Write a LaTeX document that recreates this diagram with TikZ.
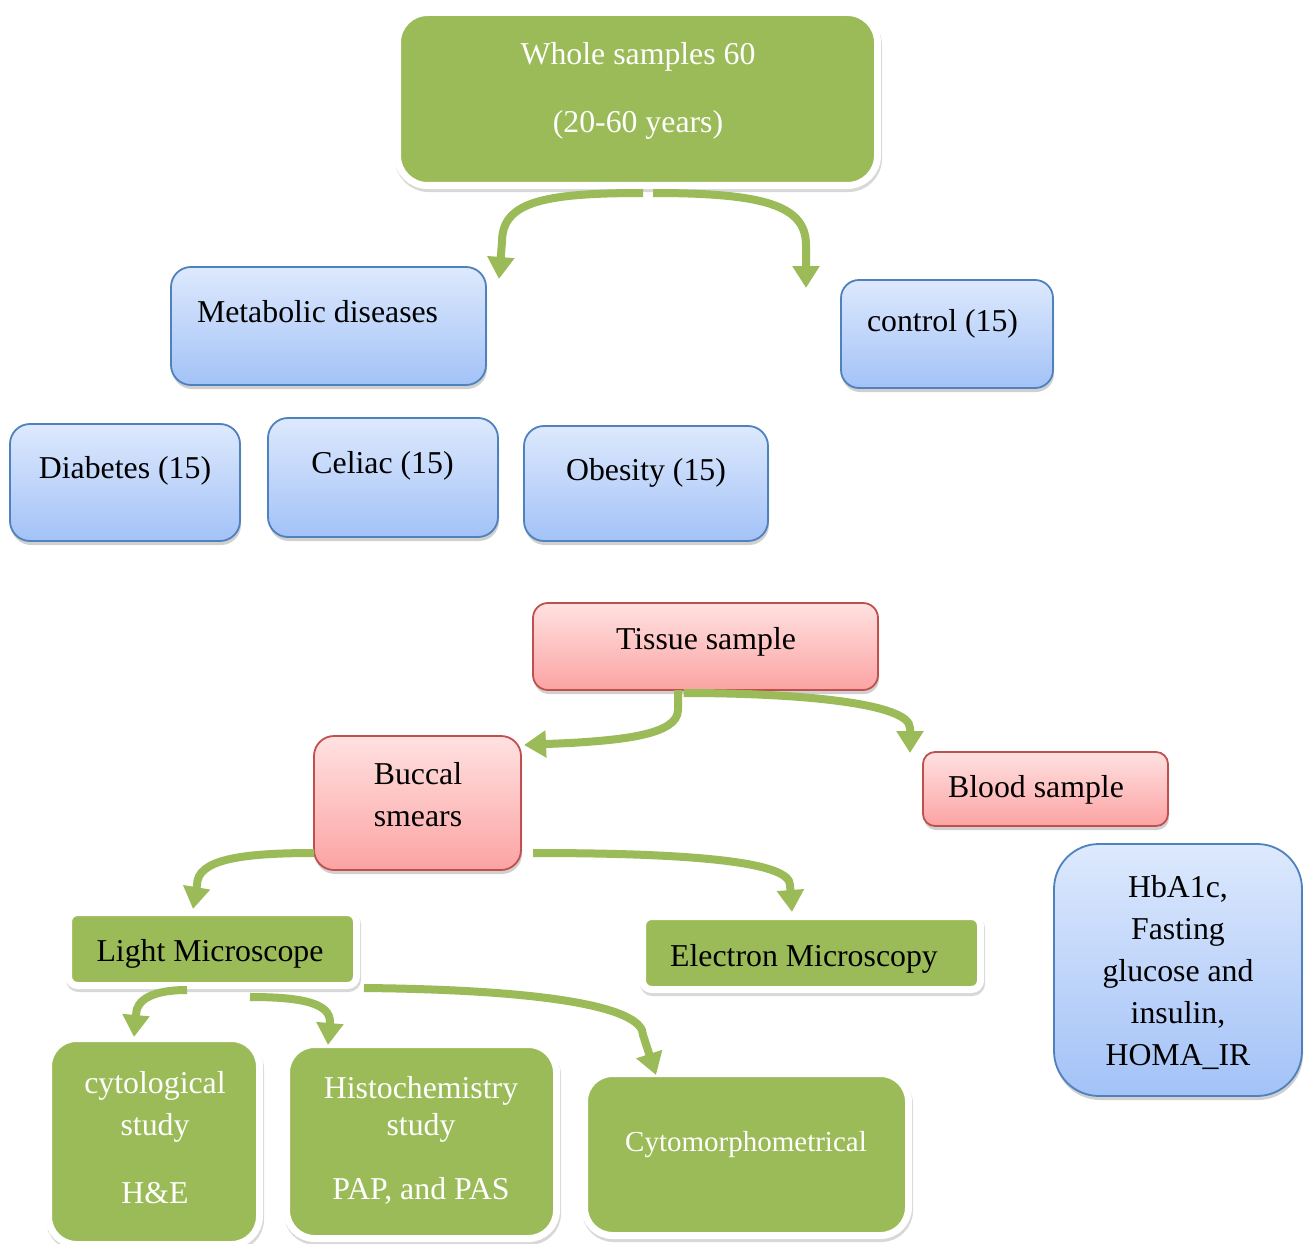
\documentclass[tikz,border=0pt]{standalone}
\usepackage{fontspec}
\setmainfont{Liberation Serif}
\usetikzlibrary{shadows,arrows.meta,calc}
\definecolor{grn}{HTML}{9BBB59}
\definecolor{bluetop}{HTML}{DDE9FD}
\definecolor{bluebot}{HTML}{A3C2F7}
\definecolor{blueedge}{HTML}{4F81BD}
\definecolor{redtop}{HTML}{FFE1E1}
\definecolor{redbot}{HTML}{FCA3A3}
\definecolor{rededge}{HTML}{C0504D}
\tikzset{
  box/.style={inner sep=0pt, outer sep=0pt, rounded corners=#1},
  box/.default=20pt,
  bluebox/.style={box=#1, draw=blueedge, line width=1.8pt, top color=bluetop, bottom color=bluebot,
    drop shadow={shadow xshift=1pt, shadow yshift=-4pt, opacity=0.3, fill=black!60}},
  bluebox/.default=20pt,
  redbox/.style={box=#1, draw=rededge, line width=1.8pt, top color=redtop, bottom color=redbot,
    drop shadow={shadow xshift=1pt, shadow yshift=-4pt, opacity=0.3, fill=black!60}},
  redbox/.default=20pt,
  greenbox/.style={box=#1, draw=white, line width=7pt, fill=grn,
    drop shadow={shadow xshift=1pt, shadow yshift=-3pt, opacity=0.25, fill=black!60, draw=black!60, line width=7pt}},
  greenbox/.default=25pt,
  txt/.style={inner sep=0pt, outer sep=0pt, align=center, font=\fontsize{31.8}{42}\selectfont},
  arr/.style={draw=grn, line width=8pt, -{Triangle[width=26pt,length=22pt]}},
}
\begin{document}
\begin{tikzpicture}[x=1pt,y=-1pt]
\useasboundingbox (0,0) rectangle (1307,1244);
\fill[white] (0,0) rectangle (1307,1244);

% boxes
\node[greenbox=30pt, minimum width=480pt, minimum height=173pt] (whole) at (637.5,99) {};
\node[bluebox=20pt, minimum width=315pt, minimum height=118pt] (metab) at (328.5,326) {};
\node[bluebox=18pt, minimum width=212pt, minimum height=108pt] (control) at (947,334) {};
\node[bluebox=20pt, minimum width=230pt, minimum height=117pt] (diab) at (125,482.5) {};
\node[bluebox=20pt, minimum width=230pt, minimum height=119pt] (celiac) at (383,477.5) {};
\node[bluebox=20pt, minimum width=244pt, minimum height=115pt] (obes) at (646,483.5) {};
\node[redbox=15pt, minimum width=345pt, minimum height=87pt] (tissue) at (705.5,646.5) {};
\node[redbox=20pt, minimum width=207pt, minimum height=134pt] (buccal) at (417.5,803) {};
\node[redbox=12pt, minimum width=245pt, minimum height=74pt] (blood) at (1045.5,789) {};
\node[bluebox=45pt, minimum width=248pt, minimum height=252pt] (hba) at (1178,970) {};
\node[greenbox=9pt, minimum width=288pt, minimum height=73pt] (light) at (212.5,949) {};
\node[greenbox=9pt, minimum width=338pt, minimum height=73pt] (electron) at (811.5,953) {};
\node[greenbox=28pt, minimum width=211pt, minimum height=206pt] (cyto) at (154,1141.5) {};
\node[greenbox=28pt, minimum width=270pt, minimum height=194pt] (histo) at (421.5,1141.5) {};
\node[greenbox=28pt, minimum width=324pt, minimum height=162pt] (morph) at (746.5,1154.5) {};

% texts
\node[txt, text=white, anchor=north] (whole-t) at (638,42.3) {Whole samples 60\\[26pt](20-60 years)};
\node[txt, anchor=base west] (metab-t) at (197,322) {Metabolic diseases};
\node[txt, anchor=base] (control-t) at (942.5,331) {control (15)};
\node[txt, anchor=base] (diab-t) at (125,478.3) {Diabetes (15)};
\node[txt, anchor=base] (celiac-t) at (382.5,473.3) {Celiac (15)};
\node[txt, anchor=base] (obes-t) at (646,480) {Obesity (15)};
\node[txt, anchor=base] (tissue-t) at (706,649) {Tissue sample};
\node[txt, anchor=north] (buccal-t) at (418,762.3) {Buccal\\smears};
\node[txt, anchor=base] (blood-t) at (1036,797) {Blood sample};
\node[txt, anchor=north] (hba-t) at (1178,875.3) {HbA1c,\\Fasting\\glucose and\\insulin,\\HOMA\_IR};
\node[txt, anchor=base] (light-t) at (210,961) {Light Microscope};
\node[txt, anchor=base] (electron-t) at (804,966) {Electron Microscopy};
\node[txt, text=white, anchor=north] (cyto-t) at (155,1071.3) {cytological\\study\\[26pt]H\&E};
\node[txt, text=white, anchor=north] (histo-t) at (421,1076.3) {Histochemistry\\[-5pt]study\\[22pt]PAP, and PAS};
\node[txt, text=white, anchor=base, font=\fontsize{29}{36}\selectfont] (morph-t) at (746,1151) {Cytomorphometrical};

% connectors
\draw[arr] ($(whole.south)+(5.5,7.5)$) .. controls +(-100,0) and +(0,-40) .. ($(metab.north east)+(16,-25)$) -- ($(metab.north east)+(13,12)$);
\draw[arr] ($(whole.south)+(15.5,7.5)$) .. controls +(110,0) and +(0,-40) .. ($(control.north west)+(-35,-35)$) -- ($(control.north west)+(-35,8)$);
\draw[arr] ($(tissue.south)+(-27.5,0)$) -- ++(0,20) .. controls +(0,25) and +(50,-3) .. ($(buccal.north east)+(49,7)$) -- ($(buccal.north east)+(3,9)$);
\draw[arr] ($(tissue.south)+(-22,3)$) .. controls +(115,0) and +(0,-25) .. ($(blood.north west)+(-13,-24)$) -- ($(blood.north west)+(-13,1)$);
\draw[arr] ($(buccal.west)+(0,50)$) .. controls +(-75,0) and +(0,-25) .. ($(light.north)+(-15.5,-27.5)$) -- ($(light.north)+(-19.5,-3.5)$);
\draw[arr] ($(buccal.east)+(12,50)$) .. controls +(170,0) and +(0,-22) .. ($(electron.north)+(-21.5,-31.5)$) -- ($(electron.north)+(-19.5,-4.5)$);
\draw[arr] ($(light.south)+(-25.5,4.5)$) .. controls +(-35,0) and +(0,-15) .. ($(cyto.north)+(-18,-23.5)$) -- ($(cyto.north)+(-20,-1.5)$);
\draw[arr] ($(light.south)+(37.5,11.5)$) .. controls +(55,0) and +(0,-18) .. ($(histo.north)+(-91.5,-22.5)$) -- ($(histo.north)+(-93.5,0.5)$);
\draw[arr] ($(light.east)+(7.5,39)$) .. controls +(200,2) and +(0,-25) .. ($(morph.north west)+(58.5,-38.5)$) -- ($(morph.north west)+(71.5,1.5)$);
\end{tikzpicture}
\end{document}
